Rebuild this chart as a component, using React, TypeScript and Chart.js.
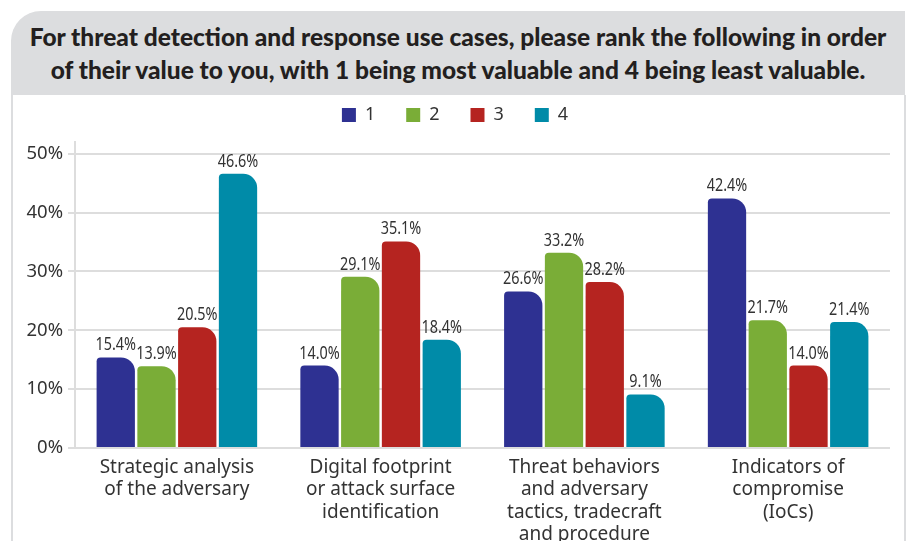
import React, { useEffect, useRef } from "react";
import { Chart, registerables } from "chart.js";

Chart.register(...registerables);

const titleLines = [
  "For threat detection and response use cases, please rank the following in order",
  "of their value to you, with 1 being most valuable and 4 being least valuable.",
];

const categories: string[][] = [
  ["Strategic analysis", "of the adversary"],
  ["Digital footprint", "or attack surface", "identification"],
  ["Threat behaviors", "and adversary", "tactics, tradecraft", "and procedure"],
  ["Indicators of", "compromise", "(IoCs)"],
];

const seriesNames = ["1", "2", "3", "4"];
const rank1 = [15.4, 14.0, 26.6, 42.4];
const rank2 = [13.9, 29.1, 33.2, 21.7];
const rank3 = [20.5, 35.1, 28.2, 14.0];
const rank4 = [46.6, 18.4, 9.1, 21.4];
const seriesColors = ["#2E3192", "#7AAD37", "#B52420", "#008BA8"];
const yTicks = [0, 10, 20, 30, 40, 50];

const dataLabelPlugin = {
  id: "dataLabels",
  afterDatasetsDraw(chart: any) {
    const ctx = chart.ctx;
    chart.data.datasets.forEach((ds: any, i: number) => {
      const meta = chart.getDatasetMeta(i);
      meta.data.forEach((el: any, j: number) => {
        const v = ds.data[j];
        ctx.save();
        ctx.font = "18px 'Noto Sans', sans-serif";
        ctx.fillStyle = "#333333";
        ctx.textAlign = "center";
        ctx.textBaseline = "alphabetic";
        ctx.translate(el.x, el.y - 7);
        ctx.scale(0.8, 1);
        ctx.fillText(v.toFixed(1) + "%", 0, 0);
        ctx.restore();
      });
    });
  },
};

const legendShiftPlugin = {
  id: "legendShift",
  beforeInit(chart: any) {
    const lg = chart.legend;
    if (lg && !lg.__patched) {
      const orig = lg.fit;
      lg.fit = function () {
        orig.call(this);
        this.height += 8;
      };
      lg.__patched = true;
    }
  },
};

export default function App() {
  const ref = useRef<HTMLCanvasElement | null>(null);

  useEffect(() => {
    if (!ref.current) return;
    const sets = [rank1, rank2, rank3, rank4];
    const chart = new Chart(ref.current, {
      type: "bar",
      data: {
        labels: categories,
        datasets: sets.map((d, i) => ({
          label: seriesNames[i],
          data: d,
          backgroundColor: seriesColors[i],
          borderRadius: { topLeft: 4, topRight: 14, bottomLeft: 0, bottomRight: 0 },
          borderSkipped: "bottom",
          categoryPercentage: 0.8,
          barPercentage: 0.94,
        })),
      },
      options: {
        responsive: false,
        animation: false,
        layout: { padding: { top: 75, left: 0, right: 0, bottom: 0 } },
        plugins: {
          legend: {
            position: "top",
            labels: {
              boxWidth: 14,
              boxHeight: 14,
              padding: 31,
              color: "#333333",
              font: { family: "'Noto Sans', sans-serif", size: 18 },
            },
          },
          tooltip: { enabled: false },
        },
        scales: {
          x: {
            grid: { display: false },
            border: { display: false },
            ticks: {
              color: "#333333",
              padding: 1,
              autoSkip: false,
              maxRotation: 0,
              font: { family: "'Noto Sans', sans-serif", size: 19, lineHeight: 1.16 },
            },
            afterFit(scale: any) {
              scale.height = 93;
            },
          },
          y: {
            min: 0,
            max: 52,
            ticks: {
              stepSize: 10,
              color: "#333333",
              padding: 5,
              font: { family: "'Noto Sans', sans-serif", size: 18.5 },
              callback: (v: any) => v + "%",
            },
            afterBuildTicks(scale: any) {
              scale.ticks = yTicks.map((v) => ({ value: v }));
            },
            grid: { color: "#DDDDDD", lineWidth: 2, tickLength: 7 },
            border: { display: true, color: "#DDDDDD", width: 2 },
            afterFit(scale: any) {
              scale.width = 75;
            },
          },
          yRight: {
            position: "right",
            display: true,
            grid: { display: false },
            border: { display: false },
            ticks: { display: false },
            afterFit(scale: any) {
              scale.width = 20;
            },
          },
        },
      } as any,
      plugins: [dataLabelPlugin, legendShiftPlugin],
    });
    return () => chart.destroy();
  }, []);

  return (
    <div
      style={{
        position: "fixed",
        left: 0,
        top: 0,
        width: 910,
        height: 541,
        background: "#ffffff",
        overflow: "hidden",
      }}
    >
      <div
        style={{
          position: "absolute",
          left: 11,
          top: 95,
          width: 891,
          height: 460,
          borderLeft: "2px solid #DCDDDF",
          borderRight: "2px solid #DCDDDF",
        }}
      />
      <div
        style={{
          position: "absolute",
          left: 11,
          top: 11,
          width: 894,
          height: 84,
          background: "#DCDDDF",
          borderTopLeftRadius: 30,
          display: "flex",
          flexDirection: "column",
          alignItems: "center",
          justifyContent: "center",
          fontFamily: "Lato, 'Noto Sans', sans-serif",
          fontWeight: 900,
          fontSize: 24.5,
          lineHeight: "33px",
          color: "#231F20",
          textAlign: "center",
          whiteSpace: "nowrap",
        }}
      >
        {titleLines.map((t, i) => (
          <div key={i}>{t}</div>
        ))}
      </div>
      <canvas
        ref={ref}
        width={910}
        height={541}
        style={{ position: "absolute", left: 0, top: 0, width: 910, height: 541 }}
      />
    </div>
  );
}
